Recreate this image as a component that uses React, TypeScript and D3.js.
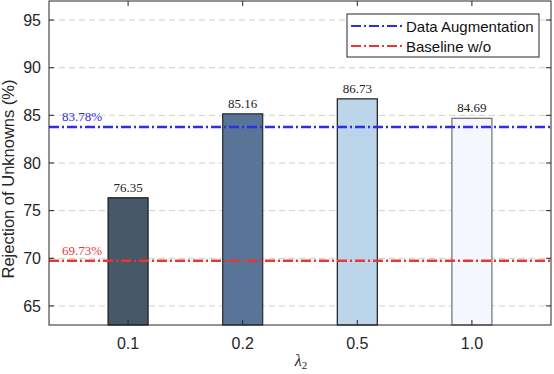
import React from "react";
import * as d3 from "d3";

const categories = ["0.1", "0.2", "0.5", "1.0"];
const values = [76.35, 85.16, 86.73, 84.69];
const barColors = ["#475868", "#587497", "#bdd5ea", "#f4f7fd"];
const barStrokes = ["#1a1a1a", "#2a2a2a", "#1a1a1a", "#6e6e6e"];
const yTicks = [65, 70, 75, 80, 85, 90, 95];
const refValues = [83.78, 69.73];
const refLabels = ["83.78%", "69.73%"];
const refColors = ["#2e2ee6", "#ec3434"];
const legendLabels = ["Data Augmentation", "Baseline w/o"];

const W = 554, H = 374;
const L = 49, R = 551, T = 1, B = 325;

export default function App() {
  const x = d3.scaleLinear().domain([0.31, 4.69]).range([L, R]);
  const y = d3.scaleLinear().domain([63, 97]).range([B, T]);
  const bw = 40;
  const sans = "'Liberation Sans', Arial, Helvetica, sans-serif";
  const serif = "'Liberation Serif', 'Times New Roman', serif";
  const dash = "10,3,2,3";
  const axisCol = "#262626";
  return (
    <svg width={W} height={H} style={{ position: "absolute", left: 0, top: 0, background: "#fff" }}>
      <rect x={0} y={0} width={W} height={H} fill="#fff" />
      {yTicks.map((t) => (
        <line key={"g" + t} x1={L} x2={R} y1={y(t)} y2={y(t)} stroke="#cfcfcf" strokeWidth={1} strokeDasharray="6,4" />
      ))}
      {values.map((v, i) => (
        <g key={"b" + i}>
          <rect x={x(i + 1) - bw / 2} y={y(v)} width={bw} height={B - y(v)} fill={barColors[i]} stroke={barStrokes[i]} strokeWidth={1.2} />
          <text x={x(i + 1)} y={y(v) - 6} textAnchor="middle" fontFamily={serif} fontSize={13} fill="#222">{v.toFixed(2)}</text>
        </g>
      ))}
      {refValues.map((v, i) => (
        <g key={"r" + i}>
          <line x1={L} x2={R} y1={y(v)} y2={y(v)} stroke={refColors[i]} strokeWidth={2.5} strokeDasharray={dash} />
          <text x={62} y={y(v) - 6} fontFamily={serif} fontSize={13} fill={refColors[i]}>{refLabels[i]}</text>
        </g>
      ))}
      <rect x={L} y={T} width={R - L} height={B - T} fill="none" stroke={axisCol} strokeWidth={1} />
      {yTicks.map((t) => (
        <g key={"t" + t}>
          <line x1={L} x2={L + 5} y1={y(t)} y2={y(t)} stroke={axisCol} />
          <line x1={R} x2={R - 5} y1={y(t)} y2={y(t)} stroke={axisCol} />
          <text x={L - 8} y={y(t)} dy="0.35em" textAnchor="end" fontFamily={sans} fontSize={16} fill="#262626">{t}</text>
        </g>
      ))}
      {categories.map((c, i) => (
        <g key={"c" + i}>
          <line x1={x(i + 1)} x2={x(i + 1)} y1={B} y2={B - 5} stroke={axisCol} />
          <line x1={x(i + 1)} x2={x(i + 1)} y1={T} y2={T + 5} stroke={axisCol} />
          <text x={x(i + 1)} y={349} textAnchor="middle" fontFamily={sans} fontSize={16} fill="#262626">{c}</text>
        </g>
      ))}
      <text transform={`translate(14,${(T + B) / 2 + 16}) rotate(-90)`} textAnchor="middle" fontFamily={sans} fontSize={16.5} fill="#262626">Rejection of Unknowns (%)</text>
      <text x={301} y={366} textAnchor="middle" fontFamily={serif} fontSize={16} fill="#262626">
        <tspan fontStyle="italic">λ</tspan>
        <tspan fontSize={11} dy={3}>2</tspan>
      </text>
      <rect x={347} y={14} width={192} height={43} fill="#fff" stroke={axisCol} strokeWidth={1} />
      {legendLabels.map((lab, i) => (
        <g key={"l" + i}>
          <line x1={351} x2={402} y1={26 + i * 20} y2={26 + i * 20} stroke={refColors[i]} strokeWidth={2} strokeDasharray={dash} />
          <text x={406} y={26.5 + i * 20} dy="0.35em" fontFamily={sans} fontSize={15} fill="#111">{lab}</text>
        </g>
      ))}
    </svg>
  );
}
